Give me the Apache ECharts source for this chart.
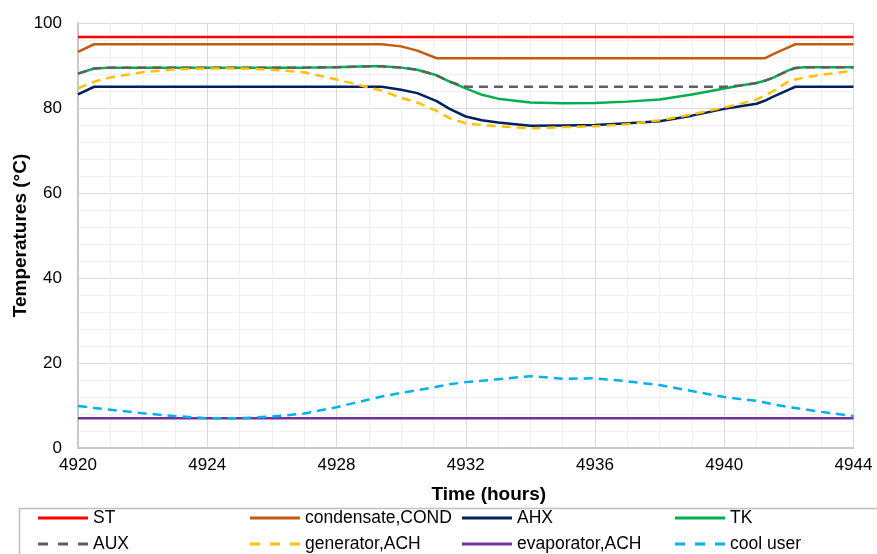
<!DOCTYPE html>
<html>
<head>
<meta charset="utf-8">
<script src="https://cdn.jsdelivr.net/npm/echarts@6/dist/echarts.min.js"></script>
<style>
  html, body { margin: 0; padding: 0; background: #fff; }
  #chart { width: 877px; height: 554px; }
</style>
</head>
<body>
<div id="chart"></div>
<script>
// Sample times (hours)
const hours = [4920, 4920.5, 4921, 4922, 4923, 4924, 4925, 4926, 4927, 4928, 4928.5, 4929, 4929.4,
  4930, 4930.5, 4931.1, 4931.5, 4932, 4932.5, 4933, 4934, 4935, 4936, 4937, 4938, 4939, 4940,
  4940.5, 4941, 4941.25, 4941.5, 4942, 4942.2, 4942.5, 4943, 4944];

// Temperatures (°C) per component
const stTemp = [96.7, 96.7, 96.7, 96.7, 96.7, 96.7, 96.7, 96.7, 96.7, 96.7, 96.7, 96.7, 96.7,
  96.7, 96.7, 96.7, 96.7, 96.7, 96.7, 96.7, 96.7, 96.7, 96.7, 96.7, 96.7, 96.7, 96.7,
  96.7, 96.7, 96.7, 96.7, 96.7, 96.7, 96.7, 96.7, 96.7];
const condTemp = [93.2, 95.0, 95.0, 95.0, 95.0, 95.0, 95.0, 95.0, 95.0, 95.0, 95.0, 95.0, 95.0,
  94.5, 93.5, 91.7, 91.7, 91.7, 91.7, 91.7, 91.7, 91.7, 91.7, 91.7, 91.7, 91.7, 91.7,
  91.7, 91.7, 91.7, 92.6, 94.3, 95.0, 95.0, 95.0, 95.0];
const ahxTemp = [83.2, 85.0, 85.0, 85.0, 85.0, 85.0, 85.0, 85.0, 85.0, 85.0, 85.0, 85.0, 85.0,
  84.3, 83.5, 81.6, 79.8, 78.0, 77.1, 76.6, 75.8, 75.9, 76.0, 76.4, 76.9, 78.2, 79.8,
  80.4, 81.0, 81.7, 82.6, 84.3, 85.0, 85.0, 85.0, 85.0];
const tkTemp = [88.1, 89.3, 89.5, 89.5, 89.5, 89.5, 89.5, 89.5, 89.5, 89.6, 89.7, 89.8, 89.8,
  89.5, 89.0, 87.7, 86.2, 84.6, 83.1, 82.2, 81.3, 81.1, 81.2, 81.5, 82.0, 83.2, 84.6,
  85.3, 85.9, 86.4, 87.1, 88.9, 89.4, 89.6, 89.6, 89.6];
const auxTemp = [88.1, 89.3, 89.5, 89.5, 89.5, 89.5, 89.5, 89.5, 89.5, 89.6, 89.7, 89.8, 89.8,
  89.5, 89.0, 87.7, 86.2, 85.0, 85.0, 85.0, 85.0, 85.0, 85.0, 85.0, 85.0, 85.0, 85.0,
  85.3, 85.9, 86.4, 87.1, 88.9, 89.4, 89.6, 89.6, 89.6];
const genTemp = [84.6, 86.2, 87.2, 88.4, 89.1, 89.3, 89.3, 89.0, 88.4, 86.7, 85.8, 84.8, 84.1,
  82.4, 81.3, 79.3, 77.6, 76.4, 76.0, 75.7, 75.2, 75.5, 75.7, 76.2, 77.1, 78.5, 80.1,
  81.0, 82.0, 82.9, 83.9, 86.3, 86.7, 87.2, 87.8, 88.8];
const evapTemp = [7.0, 7.0, 7.0, 7.0, 7.0, 7.0, 7.0, 7.0, 7.0, 7.0, 7.0, 7.0, 7.0,
  7.0, 7.0, 7.0, 7.0, 7.0, 7.0, 7.0, 7.0, 7.0, 7.0, 7.0, 7.0, 7.0, 7.0,
  7.0, 7.0, 7.0, 7.0, 7.0, 7.0, 7.0, 7.0, 7.0];
const coolUserTemp = [9.9, 9.4, 9.0, 8.2, 7.5, 7.0, 7.0, 7.4, 8.1, 9.6, 10.5, 11.4, 12.1,
  13.0, 13.6, 14.4, 15.0, 15.5, 15.8, 16.2, 16.9, 16.3, 16.4, 15.7, 14.8, 13.4, 12.0,
  11.5, 11.1, 10.7, 10.3, 9.6, 9.4, 9.1, 8.5, 7.5];

const xTicks = { min: 4920, max: 4944, step: 4 };
const yTicks = { min: 0, max: 100, step: 20 };

const FONT = "'Liberation Sans', Arial, sans-serif";
const pairs = vals => hours.map((h, i) => [h, vals[i]]);

// Legend icons: a solid bar or three short dashes
const SOLID_ICON = 'path://M0,0H50V3H0Z';
const DASH_ICON = 'path://M0,0H10V3H0Z M20,0H30V3H20Z M40,0H50V3H40Z';

function line(name, vals, color, dash) {
  return {
    name, type: 'line', data: pairs(vals),
    showSymbol: false, symbol: 'none', animation: false,
    lineStyle: { color, width: 2.5, type: dash || 'solid' },
    itemStyle: { color }
  };
}

const series = [
  line('ST', stTemp, '#ff0000'),
  line('condensate,COND', condTemp, '#c55a11'),
  line('AHX', ahxTemp, '#002060'),
  line('TK', tkTemp, '#00b050'),
  line('AUX', auxTemp, '#5f5f5f', [9, 6]),
  line('generator,ACH', genTemp, '#ffc000', [9, 6]),
  line('evaporator,ACH', evapTemp, '#7030a0'),
  line('cool user', coolUserTemp, '#00b0f0', [9, 6])
];

// Legend laid out as a 4-column, 2-row table
const legendCols = [38, 250, 462, 675];
const legendRows = [509, 535];
const legends = series.map((s, i) => ({
  data: [{ name: s.name, icon: Array.isArray(s.lineStyle.type) ? DASH_ICON : SOLID_ICON }],
  left: legendCols[i % 4], top: legendRows[Math.floor(i / 4)],
  itemWidth: 50, itemHeight: 3, padding: 0,
  textStyle: { fontFamily: FONT, fontSize: 17.5, color: '#000' }
}));

const chart = echarts.init(document.getElementById('chart'), null, { renderer: 'canvas' });
chart.setOption({
  backgroundColor: '#fff',
  animation: false,
  grid: { left: 78, right: 23.5, top: 23, bottom: 106, containLabel: false, outerBoundsMode: 'none' },
  xAxis: {
    type: 'value', min: xTicks.min, max: xTicks.max, interval: xTicks.step,
    name: 'Time (hours)', nameLocation: 'middle', nameGap: 37, nameMoveOverlap: false,
    nameTextStyle: { fontFamily: FONT, fontSize: 19, fontWeight: 'bold', color: '#000', padding: [0, 0, 0, 46] },
    axisLine: { show: true, lineStyle: { color: '#c8c8c8', width: 2 } },
    axisTick: { show: false },
    axisLabel: { fontFamily: FONT, fontSize: 17, color: '#000', margin: 9, formatter: v => String(v) },
    splitLine: { show: true, lineStyle: { color: '#d9d9d9', width: 1 } },
    minorTick: { show: false, splitNumber: 4 },
    minorSplitLine: { show: true, lineStyle: { color: '#f0f0f0', width: 1 } }
  },
  yAxis: {
    type: 'value', min: yTicks.min, max: yTicks.max, interval: yTicks.step,
    name: 'Temperatures (°C)', nameLocation: 'middle', nameGap: 48, nameMoveOverlap: false,
    nameTextStyle: { fontFamily: FONT, fontSize: 19, fontWeight: 'bold', color: '#000' },
    axisLine: { show: true, lineStyle: { color: '#c8c8c8', width: 2 } },
    axisTick: { show: false },
    axisLabel: { fontFamily: FONT, fontSize: 17, color: '#000', margin: 16 },
    splitLine: { show: true, lineStyle: { color: '#d9d9d9', width: 1 } },
    minorTick: { show: false, splitNumber: 5 },
    minorSplitLine: { show: true, lineStyle: { color: '#f0f0f0', width: 1 } }
  },
  legend: legends,
  graphic: [{
    type: 'rect', left: 17, top: 506, z: -1,
    shape: { width: 880, height: 60 },
    style: { fill: 'none', stroke: '#bfbfbf', lineWidth: 1.5 }
  }],
  series
});
</script>
</body>
</html>
